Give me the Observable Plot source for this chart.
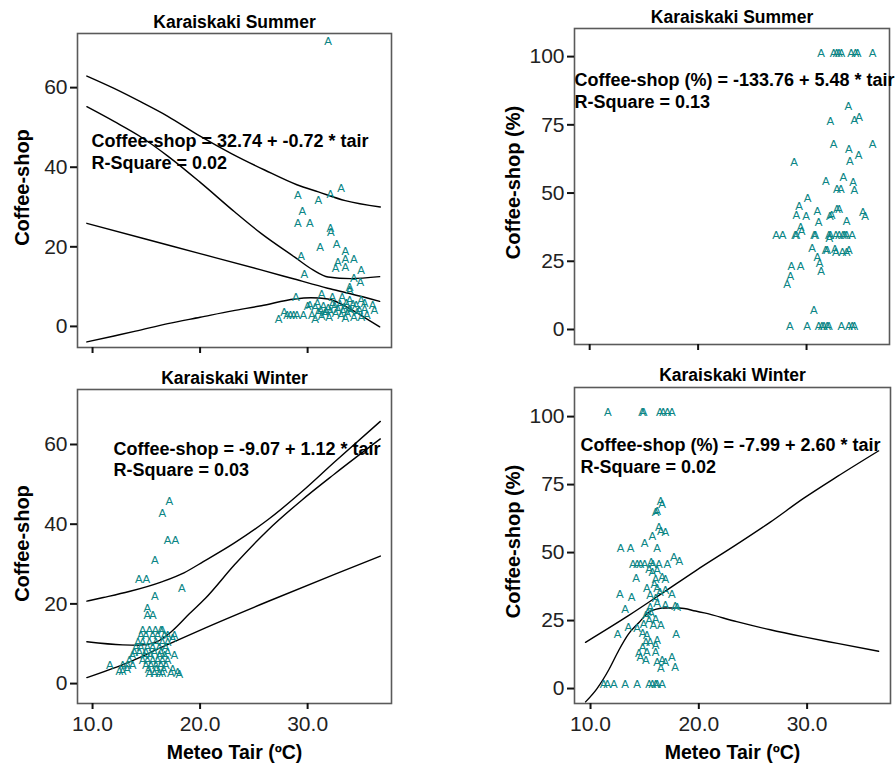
<!DOCTYPE html>
<html><head><meta charset="utf-8">
<script src="https://cdn.jsdelivr.net/npm/d3@7"></script>
<script src="https://cdn.jsdelivr.net/npm/@observablehq/plot@0.6"></script>
<style>
body{margin:0;background:#fff;}
#root{position:relative;width:896px;height:765px;overflow:hidden;background:#fff;}
.panel{position:absolute;}
</style></head><body><div id="root"></div>
<script>
// ---------- text ----------
const titles = ["Karaiskaki Summer", "Karaiskaki Summer", "Karaiskaki Winter", "Karaiskaki Winter"];
const yLabels = ["Coffee-shop", "Coffee-shop (%)", "Coffee-shop", "Coffee-shop (%)"];
const xLabel = "Meteo Tair (ºC)";
const eqLabels = [
  "Coffee-shop = 32.74 + -0.72 * tair",
  "Coffee-shop (%) = -133.76 + 5.48 * tair",
  "Coffee-shop = -9.07 + 1.12 * tair",
  "Coffee-shop (%) = -7.99 + 2.60 * tair"
];
const r2Labels = ["R-Square = 0.02", "R-Square = 0.13", "R-Square = 0.03", "R-Square = 0.02"];
const xTicks = [10, 20, 30];
const countTicks = [0, 20, 40, 60];
const pctTicks = [0, 25, 50, 75, 100];

// ---------- Summer, count ----------
const summerCount = [
  [31.9,71.7],[29.1,32.9],[31.0,31.8],[32.1,33.1],[33.1,34.8],[29.5,28.9],[29.1,26.0],[30.2,26.0],
  [32.1,24.7],[32.15,23.7],[31.15,19.9],[32.7,20.6],[33.5,18.9],[29.4,17.6],[32.8,16.2],[32.6,14.7],
  [33.5,16.8],[34.3,16.8],[33.5,14.8],[34.96,14.1],[34.3,12.1],[34.9,11.2],[29.7,13.0],[33.9,9.9],
  [33.9,9.0],[28.9,7.2],[31.3,8.1],[32.3,7.2],[33.2,7.2],[33.9,6.5],[34.96,6.5],[35.3,5.7],
  [27.3,1.9],[27.8,3.6],[28.1,2.8],[28.4,2.8],[28.7,2.8],[29.0,2.8],[29.6,2.8],[30.0,5.0],
  [30.2,5.3],[30.4,2.8],[30.7,1.9],[30.7,4.9],[31.0,3.5],[31.2,4.0],[31.45,5.0],[31.6,3.2],
  [31.7,3.9],[31.9,4.6],[32.1,3.9],[32.3,5.5],[32.5,5.0],[32.6,3.2],[32.8,4.2],[33.0,5.6],
  [33.1,2.8],[33.3,3.8],[33.4,4.9],[33.6,5.8],[33.7,3.2],[33.85,4.4],[34.0,4.0],[34.2,5.5],
  [34.3,2.3],[34.5,5.3],[34.6,3.5],[34.8,4.0],[35.0,2.4],[35.5,2.8],[35.3,4.4],[36.05,5.3],
  [36.2,4.0],[31.3,2.5],[32.0,2.2],[33.5,2.0],[30.9,5.8]
];
const summerCountUpper = [[9.47,62.9],[12,59.8],[14.5,56.4],[17,52.8],[20,47.8],[23,43.3],[26,39.3],[29,35.6],[31,33.8],[33.5,31.6],[36.76,30.0]];
const summerCountBand = [[9.47,55.2],[12,51.5],[14.5,47.6],[17,42.8],[20.1,36.0],[23.2,28.8],[25.7,23.3],[28.8,17.4],[30.5,14.2],[31.9,12.4],[34,12.0],[36.7,12.5]];
const summerCountFit = [[9.47,25.9],[15,21.9],[20,18.3],[25.66,14.2],[28.76,11.9],[31.86,9.6],[34,8.2],[36.7,6.3]];
const summerCountLower = [[9.47,-3.9],[12,-2.4],[14,-1.2],[17,0.7],[20,2.3],[23,3.9],[25.7,5.2],[28.8,6.9],[30.3,7.2],[31.9,6.9],[33.7,4.8],[35,2.7],[36.7,-0.1]];

// ---------- Summer, percent ----------
const summerPct = [
  [31.35,101.3],[32.5,101.3],[32.76,101.3],[32.98,101.3],[33.2,101.3],[34.1,101.3],[34.5,101.3],[34.7,101.3],[36.1,101.3],
  [28.46,1.3],[30.06,1.3],[31.1,1.3],[31.4,1.3],[31.6,1.3],[31.9,1.3],[32.05,1.3],[33.2,1.3],[33.9,1.3],[34.2,1.3],[34.4,1.3],
  [30.67,7.0],
  [33.85,81.7],[32.2,76.3],[34.4,76.5],[34.85,77.7],[32.5,68.0],[33.9,66.1],[36.1,68.0],[34.8,63.7],[34.0,61.5],[28.85,61.4],
  [31.78,54.3],[33.4,55.6],[34.3,54.1],[32.8,51.2],[33.15,51.2],[34.4,51.0],
  [30.1,47.9],[29.3,45.3],[29.05,41.8],[29.95,41.4],[31.0,43.2],[31.1,39.3],[32.15,41.4],[32.3,41.7],[32.8,44.1],[33.0,44.1],[33.7,39.7],[35.2,43.0],[35.4,41.4],
  [29.45,37.5],[29.55,36.1],
  [27.2,34.6],[27.8,34.6],[28.95,34.6],[29.05,34.6],[30.7,34.6],[30.8,34.6],[32.05,34.6],[32.2,34.6],[32.7,34.6],[33.0,34.6],[33.35,34.6],[33.5,34.6],[33.7,34.6],[34.2,34.6],[32.1,33.3],
  [30.5,29.7],[31.75,28.9],[31.9,28.9],[32.6,29.4],[32.7,28.3],[33.3,28.3],[33.7,28.3],[33.9,28.9],
  [31.0,26.5],[31.2,24.4],[31.35,21.2],[28.6,23.0],[29.45,23.0],[28.5,19.4],[28.2,16.6]
];

// ---------- Winter, count ----------
const winterCount = [
  [17.13,45.8],[16.5,42.8],[16.98,35.9],[17.7,35.9],[15.8,30.9],[14.3,26.1],[15.0,26.1],[18.3,23.8],
  [15.8,21.9],[15.1,19.0],[15.1,17.1],[15.6,17.1],
  [14.65,13.3],[15.27,13.3],[15.83,13.3],[16.36,13.3],[16.5,13.3],
  [14.5,12.1],[14.96,12.1],[15.58,12.1],[16.05,12.1],[16.67,12.1],[16.98,12.1],[17.6,12.1],[17.44,11.3],
  [14.2,10.4],[14.65,10.4],[15.27,10.4],[15.89,10.4],[16.5,10.4],[16.98,10.4],
  [14.03,9.2],[14.5,9.2],[15.1,9.2],[15.58,9.2],[16.2,9.2],[16.8,9.2],
  [13.88,7.9],[14.34,7.9],[14.96,7.9],[15.74,7.9],[16.36,7.9],[16.98,7.9],
  [13.7,7.1],[14.8,7.1],[15.4,7.1],[16.2,7.1],[16.7,7.1],[17.6,7.1],
  [13.41,5.8],[14.65,5.8],[15.1,5.8],[15.58,5.8],[16.05,5.8],[16.5,5.8],[16.98,5.8],
  [11.6,4.5],[12.79,4.6],[13.26,4.6],[13.72,4.6],[14.96,4.6],[15.43,4.6],[15.89,4.6],[16.36,4.6],[16.82,4.6],
  [12.5,3.2],[12.8,3.2],[13.2,3.5],[15.2,3.5],[15.9,3.5],[16.6,3.5],[17.44,3.5],
  [15.27,2.7],[15.74,2.7],[16.2,2.7],[16.5,2.7],[17.29,2.7],[17.9,2.8],[18.06,2.3]
];
const winterCountUpper = [[9.47,20.7],[11,21.6],[13.4,23.1],[16.5,25.6],[18.5,27.8],[20.3,30.6],[23.2,35.3],[26.3,41.1],[29.4,48.0],[32.5,55.6],[36.76,65.8]];
const winterCountBand = [[9.47,10.5],[12.8,9.7],[14.3,9.6],[15.9,10.4],[17.4,13.2],[19.0,17.5],[20.5,21.4],[23.2,29.8],[26.3,38.5],[29.4,45.9],[32.5,52.6],[36.76,61.4]];
const winterCountFit = [[9.47,1.5],[13.4,5.4],[16.5,9.2],[20.5,14.0],[26.3,20.6],[32.5,27.4],[36.76,32.0]];

// ---------- Winter, percent ----------
const winterPct = [
  [11.6,101.7],[14.77,101.7],[14.9,101.7],[16.4,101.7],[16.7,101.7],[17.1,101.7],[17.5,101.7],
  [11.2,1.5],[11.55,1.5],[12.15,1.5],[13.2,1.5],[14.3,1.5],[15.4,1.5],[15.7,1.5],[16.0,1.5],[16.15,1.5],[16.6,1.5],
  [16.46,69.0],[16.6,67.8],[16.15,65.1],[16.0,64.7],[16.3,59.2],[16.5,58.0],[16.9,57.4],[15.7,55.8],[15.0,53.4],
  [16.15,51.5],[12.77,51.5],[13.7,51.5],[17.7,48.3],[18.2,46.7],
  [13.9,45.5],[14.3,45.5],[14.6,45.5],[15.0,45.5],[15.6,46.5],[15.75,45.5],[16.3,45.5],[17.1,45.5],
  [15.7,42.8],[16.15,43.4],[16.6,40.9],[14.2,40.6],[16.0,40.3],[16.9,40.3],[15.4,44.0],[15.9,38.5],
  [15.2,36.9],[16.15,36.9],[16.4,35.4],[16.9,36.1],[17.5,34.8],[12.7,34.8],[13.8,33.6],[15.5,34.2],[16.0,33.0],
  [13.2,29.3],[15.5,29.9],[16.15,31.2],[16.9,30.6],[17.8,30.3],[18.0,29.9],
  [15.1,26.9],[15.4,25.1],[14.9,23.8],[15.8,23.2],[16.5,23.2],[13.5,22.6],[14.3,22.0],[12.5,19.8],[17.9,19.8],[15.6,27.5],[16.0,25.5],[15.3,28.0],
  [14.8,20.2],[15.2,19.6],[15.1,17.1],[15.5,17.1],[14.8,15.3],[16.15,17.7],[16.0,15.9],
  [14.46,12.8],[15.2,13.4],[16.0,13.4],[14.6,11.6],[15.1,10.4],[16.15,9.8],[16.6,10.4],[16.9,9.8],[17.5,11.6],[16.5,7.6],[17.8,7.9]
];
const winterPctFit = [[9.54,17.0],[13.5,26.8],[16.6,35.0],[19.7,43.3],[23.5,53.0],[26.6,61.2],[29.7,70.0],[32.8,78.0],[36.6,87.4]];
const winterPctCurve = [[9.54,-4.9],[10.6,0],[11.7,7.0],[12.6,14.0],[13.5,20.0],[14.5,24.4],[15.4,28.1],[16.0,29.1],[16.9,29.6],[18.2,29.6],[19.7,28.5],[20.5,27.8],[23.5,24.6],[26.6,21.6],[29.7,19.0],[32.8,16.6],[36.6,13.7]];

// ---------- drawing ----------
const TEAL = "#0a8585";
const TICKFONT = "'Liberation Sans Narrow', 'Arial Narrow', 'Liberation Sans', sans-serif";
const BOLDFONT = "'Liberation Sans', Arial, sans-serif";

const panels = [
  {i:0, left:0, top:0, width:448, height:360, ml:77, mr:57, mt:33, mb:13, xd:[8.6,37.8], yd:[-5.3,73.6], yt:countTicks, xLab:false,
   pts:summerCount, lines:[summerCountUpper, summerCountBand, summerCountFit, summerCountLower], eqDx:14, eqDy:108, r2Dy:130, tDy:-11.5, ylDx:-55, ylDy:-3},
  {i:1, left:448, top:0, width:448, height:360, ml:126, mr:7, mt:28, mb:16, xd:[8.6,37.65], yd:[-5.5,110.3], yt:pctTicks, xLab:false,
   pts:summerPct, lines:[], eqDx:0, eqDy:52, r2Dy:74, tDy:-11.3, ylDx:-61, ylDy:-4},
  {i:2, left:0, top:360, width:448, height:405, ml:77, mr:57, mt:29, mb:62, xd:[8.6,37.8], yd:[-5.0,73.8], yt:countTicks, xLab:true,
   pts:winterCount, lines:[winterCountUpper, winterCountBand, winterCountFit], eqDx:36, eqDy:59.3, r2Dy:81, tDy:-11, ylDx:-55, ylDy:-3},
  {i:3, left:448, top:360, width:448, height:405, ml:126, mr:6, mt:27, mb:62, xd:[8.52,37.7], yd:[-5.5,110.7], yt:pctTicks, xLab:true,
   pts:winterPct, lines:[winterPctFit, winterPctCurve], eqDx:6, eqDy:58, r2Dy:79.7, tDy:-12, ylDx:-61, ylDy:-4}
];

const root = document.getElementById("root");
for (const p of panels) {
  const marks = [
    Plot.frame({stroke: "#5a5a5a", strokeWidth: 1.6}),
    Plot.axisY({ticks: p.yt, tickSize: 7, tickPadding: 3, strokeWidth: 2, stroke: "#111", label: null, fill: "#222"}),
    p.xLab
      ? Plot.axisX({ticks: xTicks, tickSize: 6, tickPadding: 7, strokeWidth: 2, stroke: "#111", tickFormat: d3.format(".1f"), label: null, fill: "#222"})
      : Plot.axisX({ticks: xTicks, tickSize: 6, strokeWidth: 2, stroke: "#111", tickFormat: () => "", label: null}),
    ...p.lines.map(L => Plot.line(L, {x: d => d[0], y: d => d[1], stroke: "#000", strokeWidth: 1.4, curve: "monotone-x"})),
    Plot.text(p.pts, {x: d => d[0], y: d => d[1], text: () => "A", fill: TEAL, fontSize: 11.5, fontFamily: BOLDFONT}),
    Plot.text([eqLabels[p.i]], {text: d => d, frameAnchor: "top-left", textAnchor: "start", lineAnchor: "middle", dx: p.eqDx, dy: p.eqDy, fontSize: 18, fontWeight: "bold", fontFamily: BOLDFONT, fill: "#000"}),
    Plot.text([r2Labels[p.i]], {text: d => d, frameAnchor: "top-left", textAnchor: "start", lineAnchor: "middle", dx: p.eqDx, dy: p.r2Dy, fontSize: 18, fontWeight: "bold", fontFamily: BOLDFONT, fill: "#000"}),
    Plot.text([titles[p.i]], {text: d => d, frameAnchor: "top", textAnchor: "middle", lineAnchor: "middle", dy: p.tDy, fontSize: 17.5, fontWeight: "bold", fontFamily: BOLDFONT, fill: "#000"}),
    Plot.text([yLabels[p.i]], {text: d => d, frameAnchor: "left", rotate: -90, textAnchor: "middle", lineAnchor: "middle", dx: p.ylDx, dy: p.ylDy, fontSize: 20, fontWeight: "bold", fontFamily: BOLDFONT, fill: "#000"})
  ];
  if (p.xLab) marks.push(Plot.text([xLabel], {text: d => d, frameAnchor: "bottom", textAnchor: "middle", lineAnchor: "middle", dy: 49, fontSize: 19.5, fontWeight: "bold", fontFamily: BOLDFONT, fill: "#000"}));
  const chart = Plot.plot({
    width: p.width, height: p.height,
    marginLeft: p.ml, marginRight: p.mr, marginTop: p.mt, marginBottom: p.mb,
    x: {domain: p.xd, axis: null},
    y: {domain: p.yd, axis: null},
    style: {fontFamily: TICKFONT, fontSize: "21px", background: "transparent", overflow: "visible"},
    marks
  });
  chart.classList.add("panel");
  chart.style.left = p.left + "px";
  chart.style.top = p.top + "px";
  chart.style.overflow = "visible";
  root.appendChild(chart);
}
</script>
</body></html>
